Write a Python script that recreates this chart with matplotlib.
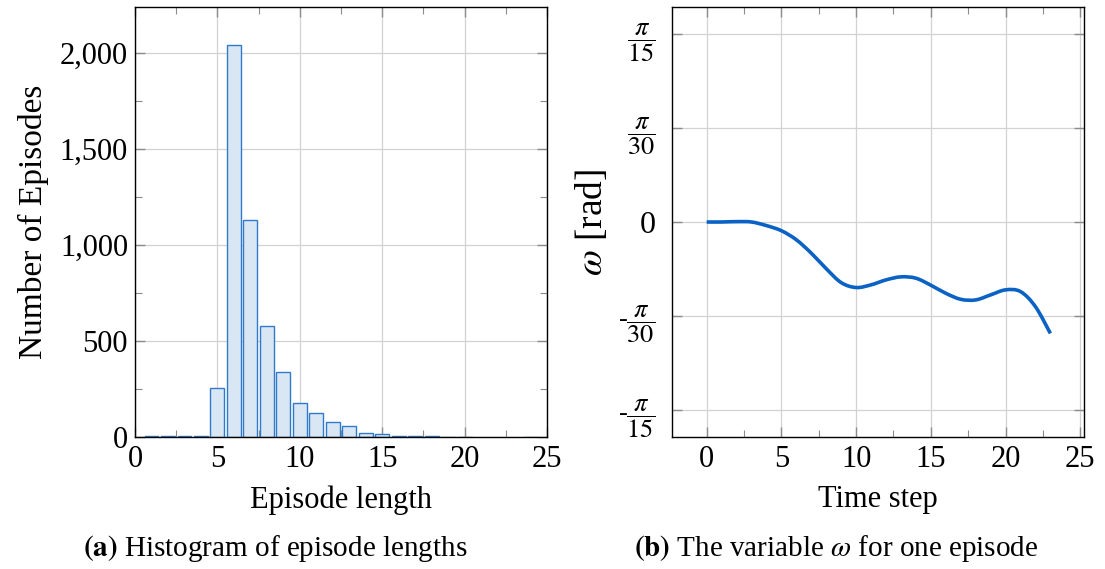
"""
Episode length histogram and omega trace for one episode
"""

import numpy as np
import matplotlib as mpl
mpl.use('Agg')
import matplotlib.pyplot as plt
from matplotlib.path import Path
from matplotlib.patches import PathPatch
from matplotlib.ticker import MultipleLocator, FixedLocator, FuncFormatter

# ---- data -------------------------------------------------
ep_lengths = np.arange(1, 25)
ep_counts = np.array([7, 7, 3, 4, 255, 2040, 1130, 580, 339, 179, 127, 78,
                      59, 21, 17, 7, 7, 7, 1, 1, 0, 0, 0, 1])

time_step = np.arange(0, 24)
omega = np.array([0.0, 0.0, 0.0004, 0.0, -0.004, -0.0097, -0.0198, -0.0347,
                  -0.052, -0.0675, -0.073, -0.070, -0.0645, -0.0611, -0.0626,
                  -0.0704, -0.0794, -0.0861, -0.0868, -0.0812, -0.0756,
                  -0.0775, -0.0943, -0.1241])

omega_ticks = [-np.pi / 15, -np.pi / 30, 0.0, np.pi / 30, np.pi / 15]
omega_labels = ['-' + r'$\dfrac{\pi}{15}$', '-' + r'$\dfrac{\pi}{30}$', '0',
                r'$\dfrac{\pi}{30}$', r'$\dfrac{\pi}{15}$']

# ---- style ------------------------------------------------
plt.rcParams.update({'font.family': 'Liberation Serif',
                     'mathtext.fontset': 'stix',
                     'font.size': 22,
                     'axes.linewidth': 1.0,
                     'axes.edgecolor': 'black'})

grid_col = '#d2d2d2'
tick_col = '#8c8c8c'
bar_face = '#d9e7f5'
bar_edge = '#2f7acb'
line_col = '#0a62c4'


def style_axes(ax, ypad):
    ax.grid(True, which='major', color=grid_col, linewidth=0.9)
    ax.set_axisbelow(True)
    ax.tick_params(which='both', direction='in', top=True, right=True,
                   color=tick_col)
    ax.tick_params(which='major', length=7.5, width=1.0)
    ax.tick_params(which='minor', length=5, width=0.8)
    ax.tick_params(axis='x', which='major', pad=6)
    ax.tick_params(axis='y', which='major', pad=ypad)


W, H = 1105, 569
fig = plt.figure(figsize=(W / 100, H / 100), dpi=100)

# ---- (a) histogram ----------------------------------------
ax1 = fig.add_axes([135 / W, 1 - 437 / H, 412 / W, 430 / H])
keep = ep_counts > 0
ax1.bar(ep_lengths[keep], ep_counts[keep], width=0.84, color=bar_face,
        edgecolor=bar_edge, linewidth=1.0, zorder=2)
ax1.set_xlim(0, 25)
ax1.set_ylim(0, 2238)
ax1.xaxis.set_major_locator(MultipleLocator(5))
ax1.xaxis.set_minor_locator(MultipleLocator(2.5))
ax1.yaxis.set_major_locator(MultipleLocator(500))
ax1.yaxis.set_minor_locator(MultipleLocator(250))
ax1.yaxis.set_major_formatter(FuncFormatter(lambda v, p: f'{int(v):,}'))
style_axes(ax1, 5)
ax1.set_xlabel('Episode length', labelpad=8)
ax1.set_ylabel('Number of Episodes', labelpad=8, fontsize=24)

# ---- (b) omega over one episode ---------------------------
ax2 = fig.add_axes([672 / W, 1 - 437 / H, 412 / W, 430 / H])

# smooth curve through the points (Catmull-Rom as cubic Bezier)
pts = np.column_stack([time_step, omega])
ext = np.vstack([pts[0], pts, pts[-1]])
verts = [pts[0]]
codes = [Path.MOVETO]
for i in range(1, len(ext) - 2):
    p0, p1, p2, p3 = ext[i - 1], ext[i], ext[i + 1], ext[i + 2]
    verts += [p1 + (p2 - p0) / 6, p2 - (p3 - p1) / 6, p2]
    codes += [Path.CURVE4] * 3
ax2.add_patch(PathPatch(Path(verts, codes), fill=False, edgecolor=line_col,
                        linewidth=2.6, capstyle='butt', zorder=3))

ax2.set_xlim(-2.32, 25.25)
ax2.set_ylim(-0.2395, 0.2395)
ax2.xaxis.set_major_locator(MultipleLocator(5))
ax2.xaxis.set_minor_locator(MultipleLocator(2.5))
ax2.yaxis.set_major_locator(FixedLocator(omega_ticks))
ax2.set_yticklabels(omega_labels)
style_axes(ax2, 12)
ax2.tick_params(axis='y', labelsize=19)
for lab in ax2.get_yticklabels():
    if lab.get_text() == '0':
        lab.set_fontsize(23)
ax2.set_xlabel('Time step', labelpad=8)
ax2.set_ylabel(r'$\omega$ [rad]', labelpad=6, fontsize=27)

# ---- captions ---------------------------------------------
fig.text(275 / W, 1 - 548 / H, r'$\mathbf{(a)}$ Histogram of episode lengths',
         ha='center', va='center', fontsize=21)
fig.text(836 / W, 1 - 548 / H, r'$\mathbf{(b)}$ The variable $\omega$ for one episode',
         ha='center', va='center', fontsize=21)

fig.savefig('out.png', dpi=100)
plt.close(fig)
